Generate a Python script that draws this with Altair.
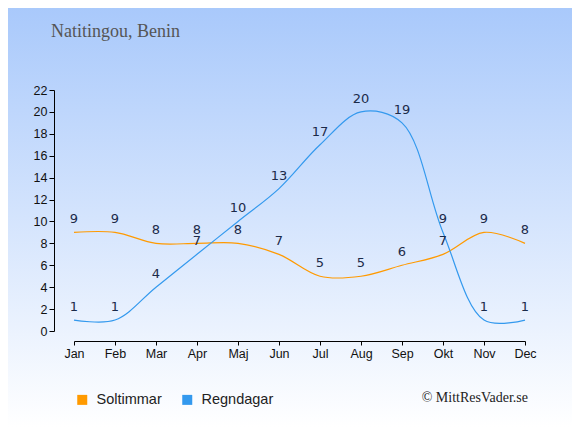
import json
import altair as alt
import pandas as pd

months = ["Jan", "Feb", "Mar", "Apr", "Maj", "Jun", "Jul", "Aug", "Sep", "Okt", "Nov", "Dec"]
sun_hours = [9, 9, 8, 8, 8, 7, 5, 5, 6, 7, 9, 8]
rain_days = [1, 1, 4, 7, 10, 13, 17, 20, 19, 9, 1, 1]
series_names = ["Soltimmar", "Regndagar"]
series_colors = ["#ff9a00", "#3399ee"]
y_ticks = list(range(0, 23, 2))
title_text = "Natitingou, Benin"
credit_text = "© MittResVader.se"

rows = []
for i, m in enumerate(months):
    rows.append({"idx": i, "month": m, "series": series_names[0], "value": sun_hours[i]})
    rows.append({"idx": i, "month": m, "series": series_names[1], "value": rain_days[i]})
df = pd.DataFrame(rows)

label_expr = json.dumps(months) + "[datum.value]"

x_enc = alt.X(
    "idx:Q",
    scale=alt.Scale(domain=[0, len(months) - 1], nice=False, zero=False),
    axis=alt.Axis(
        values=list(range(len(months))),
        labelExpr=label_expr,
        labelFlush=False,
        labelOverlap=False,
        title=None,
        grid=False,
        offset=10,
        tickSize=4,
        labelPadding=2,
        domainColor="#000",
        tickColor="#000",
        labelColor="#111",
        labelFont="Liberation Sans",
        labelFontSize=12.5,
        zindex=1,
    ),
)
y_enc = alt.Y(
    "value:Q",
    scale=alt.Scale(domain=[0, 22], nice=False),
    axis=alt.Axis(
        values=y_ticks,
        labelFlush=False,
        labelOverlap=False,
        title=None,
        grid=False,
        offset=20,
        tickSize=5,
        labelPadding=2,
        domainColor="#000",
        tickColor="#000",
        labelColor="#111",
        labelFont="Liberation Sans",
        labelFontSize=12.5,
        zindex=1,
    ),
)

bg = alt.Chart(pd.DataFrame({"a": [0]})).mark_rect(
    fill=alt.Gradient(
        gradient="linear",
        stops=[
            alt.GradientStop(color="#a9c9fb", offset=0),
            alt.GradientStop(color="#ffffff", offset=1),
        ],
        x1=0, x2=0, y1=0, y2=1,
    )
).encode(
    x=alt.value(-66), x2=alt.value(498), y=alt.value(-82), y2=alt.value(337)
)

legend_layer = alt.Chart(df).mark_square(filled=True, opacity=0, size=10).encode(
    x=x_enc,
    y=y_enc,
    color=alt.Color(
        "series:N",
        scale=alt.Scale(domain=series_names, range=series_colors),
        sort=series_names,
        legend=alt.Legend(
            title=None,
            orient="none",
            legendX=1,
            legendY=302.5,
            direction="horizontal",
            symbolType="square",
            symbolSize=100,
            symbolOpacity=1,
            symbolStrokeWidth=0,
            labelFont="Liberation Sans",
            labelFontSize=14.5,
            labelColor="#222",
            labelOffset=7,
            columnPadding=18,
            padding=0,
        ),
    ),
)

lines = alt.Chart(df).mark_line(interpolate="catmull-rom", strokeWidth=1.2).encode(
    x=x_enc,
    y=y_enc,
    stroke=alt.Stroke(
        "series:N",
        scale=alt.Scale(domain=series_names, range=series_colors),
        legend=None,
    ),
    detail="series:N",
)

labels = alt.Chart(df).mark_text(
    dy=-13, baseline="middle", align="center", font="DejaVu Sans", fontSize=13, color="#1b2a49"
).encode(x=x_enc, y=y_enc, text="value:Q")

title = alt.Chart(pd.DataFrame({"t": [title_text]})).mark_text(
    align="left", baseline="alphabetic", font="Liberation Serif", fontSize=18, color="#555555"
).encode(x=alt.value(-23), y=alt.value(-53), text="t:N")

credit = alt.Chart(pd.DataFrame({"t": [credit_text]})).mark_text(
    align="right", baseline="alphabetic", font="Liberation Serif", fontSize=14, color="#222222"
).encode(x=alt.value(454), y=alt.value(311.5), text="t:N")

chart = alt.layer(bg, legend_layer, lines, labels, title, credit).properties(
    width=451,
    height=241,
    autosize=alt.AutoSizeParams(type="none"),
    padding={"left": 66, "top": 82, "right": 47, "bottom": 96},
).configure_view(stroke=None).configure(background="white")

chart.save("out.html", embed_options={"renderer": "svg", "actions": False})
